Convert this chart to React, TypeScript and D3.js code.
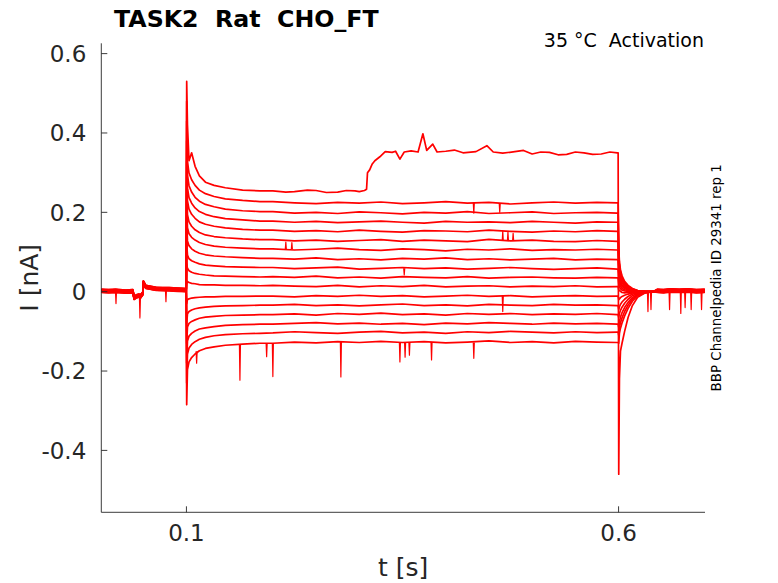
import * as d3 from 'd3';

const W = 778;
const H = 583;

// time grids (s)
const preTimes = [0.0015, 0.01, 0.018, 0.03, 0.038, 0.0395, 0.042, 0.045, 0.047, 0.0497, 0.0502, 0.053, 0.065, 0.08, 0.09, 0.0998];
const preValues = [0.002, 0.001, 0.002, 0.0, 0.001, -0.016, -0.012, -0.01, -0.012, -0.004, 0.023, 0.012, 0.007, 0.006, 0.005, 0.004];

const onsetTimes = [0.1003, 0.1012, 0.103, 0.106, 0.11, 0.115, 0.122, 0.132, 0.145, 0.165, 0.185];
const onsetValues = [
  [0.53, 0.42, 0.33, 0.35, 0.316, 0.292, 0.276, 0.268, 0.262, 0.256, 0.254],
  [0.48, 0.328, 0.299, 0.282, 0.268, 0.256, 0.247, 0.24, 0.234, 0.23, 0.227],
  [0.43, 0.293, 0.267, 0.251, 0.238, 0.228, 0.22, 0.214, 0.208, 0.204, 0.202],
  [0.38, 0.261, 0.237, 0.223, 0.211, 0.202, 0.195, 0.189, 0.184, 0.181, 0.178],
  [0.33, 0.229, 0.208, 0.195, 0.185, 0.176, 0.17, 0.165, 0.161, 0.157, 0.155],
  [0.28, 0.194, 0.176, 0.165, 0.156, 0.149, 0.143, 0.139, 0.136, 0.133, 0.131],
  [0.23, 0.161, 0.146, 0.137, 0.13, 0.124, 0.119, 0.115, 0.112, 0.11, 0.108],
  [0.18, 0.128, 0.116, 0.108, 0.102, 0.097, 0.093, 0.09, 0.088, 0.086, 0.084],
  [0.12, 0.092, 0.083, 0.078, 0.074, 0.07, 0.067, 0.065, 0.063, 0.062, 0.061],
  [0.07, 0.059, 0.053, 0.049, 0.046, 0.044, 0.042, 0.04, 0.039, 0.038, 0.037],
  [0.02, 0.026, 0.023, 0.021, 0.02, 0.018, 0.017, 0.017, 0.016, 0.016, 0.015],
  [-0.03, -0.02, -0.018, -0.016, -0.015, -0.014, -0.013, -0.013, -0.012, -0.012, -0.011],
  [-0.08, -0.056, -0.05, -0.046, -0.043, -0.041, -0.039, -0.037, -0.036, -0.035, -0.034],
  [-0.13, -0.089, -0.08, -0.075, -0.071, -0.067, -0.064, -0.062, -0.06, -0.059, -0.058],
  [-0.18, -0.124, -0.112, -0.105, -0.099, -0.094, -0.091, -0.088, -0.085, -0.083, -0.082],
  [-0.23, -0.157, -0.142, -0.133, -0.126, -0.12, -0.115, -0.111, -0.108, -0.106, -0.105],
  [-0.285, -0.196, -0.177, -0.166, -0.157, -0.149, -0.143, -0.139, -0.135, -0.132, -0.13],
];

// top trace during the step, with its jump near 0.31 s
const topTimes = [0.2, 0.215, 0.225, 0.24, 0.25, 0.262, 0.275, 0.285, 0.295, 0.3, 0.306, 0.3084, 0.3095, 0.312, 0.315, 0.318, 0.3238, 0.33, 0.338, 0.342, 0.347, 0.352, 0.36, 0.368, 0.3736, 0.378, 0.385, 0.39, 0.4, 0.41, 0.42, 0.435, 0.4476, 0.455, 0.466, 0.48, 0.49, 0.5, 0.51, 0.52, 0.53, 0.54, 0.55, 0.56, 0.57, 0.58, 0.59, 0.5985];
const topValues = [0.254, 0.251, 0.252, 0.256, 0.255, 0.25, 0.251, 0.255, 0.254, 0.252, 0.255, 0.258, 0.3, 0.307, 0.322, 0.33, 0.34, 0.353, 0.351, 0.354, 0.334, 0.352, 0.355, 0.352, 0.398, 0.356, 0.372, 0.352, 0.354, 0.357, 0.35, 0.353, 0.368, 0.352, 0.349, 0.353, 0.356, 0.347, 0.352, 0.351, 0.345, 0.346, 0.352, 0.35, 0.346, 0.347, 0.352, 0.35];

const steadyTimes = [0.2, 0.225, 0.25, 0.275, 0.3, 0.325, 0.35, 0.375, 0.4, 0.425, 0.45, 0.475, 0.5, 0.525, 0.55, 0.575, 0.5985];
const steadyValues = [
  [],
  [0.227, 0.224, 0.222, 0.225, 0.223, 0.226, 0.222, 0.224, 0.227, 0.223, 0.225, 0.221, 0.224, 0.226, 0.223, 0.225, 0.224],
  [0.202, 0.198, 0.2, 0.197, 0.201, 0.199, 0.196, 0.2, 0.198, 0.202, 0.197, 0.199, 0.201, 0.197, 0.199, 0.2, 0.198],
  [0.178, 0.175, 0.177, 0.174, 0.176, 0.178, 0.175, 0.173, 0.177, 0.175, 0.176, 0.174, 0.177, 0.175, 0.173, 0.176, 0.175],
  [0.155, 0.152, 0.154, 0.151, 0.155, 0.152, 0.15, 0.154, 0.153, 0.151, 0.155, 0.152, 0.15, 0.153, 0.151, 0.154, 0.152],
  [0.131, 0.128, 0.13, 0.127, 0.129, 0.131, 0.127, 0.13, 0.128, 0.126, 0.132, 0.128, 0.13, 0.127, 0.126, 0.129, 0.127],
  [0.108, 0.105, 0.107, 0.11, 0.106, 0.104, 0.108, 0.106, 0.103, 0.107, 0.105, 0.108, 0.104, 0.106, 0.105, 0.107, 0.105],
  [0.084, 0.082, 0.085, 0.081, 0.083, 0.08, 0.084, 0.082, 0.085, 0.081, 0.083, 0.08, 0.082, 0.084, 0.08, 0.082, 0.081],
  [0.061, 0.058, 0.06, 0.062, 0.057, 0.059, 0.061, 0.058, 0.06, 0.057, 0.059, 0.061, 0.058, 0.056, 0.058, 0.06, 0.057],
  [0.038, 0.036, 0.039, 0.035, 0.037, 0.034, 0.038, 0.036, 0.035, 0.038, 0.034, 0.036, 0.037, 0.035, 0.034, 0.036, 0.035],
  [0.016, 0.014, 0.013, 0.016, 0.012, 0.015, 0.013, 0.016, 0.012, 0.014, 0.015, 0.012, 0.014, 0.013, 0.015, 0.012, 0.013],
  [-0.011, -0.013, -0.01, -0.012, -0.009, -0.012, -0.01, -0.013, -0.011, -0.009, -0.012, -0.01, -0.013, -0.011, -0.01, -0.012, -0.011],
  [-0.034, -0.032, -0.035, -0.033, -0.036, -0.033, -0.031, -0.035, -0.033, -0.036, -0.032, -0.034, -0.035, -0.032, -0.034, -0.033, -0.035],
  [-0.058, -0.056, -0.059, -0.055, -0.057, -0.054, -0.058, -0.056, -0.059, -0.055, -0.057, -0.055, -0.058, -0.056, -0.057, -0.055, -0.058],
  [-0.082, -0.08, -0.078, -0.081, -0.079, -0.082, -0.08, -0.083, -0.079, -0.081, -0.078, -0.08, -0.082, -0.079, -0.081, -0.08, -0.082],
  [-0.104, -0.101, -0.103, -0.105, -0.102, -0.1, -0.104, -0.102, -0.105, -0.101, -0.103, -0.1, -0.102, -0.104, -0.101, -0.103, -0.102],
  [-0.13, -0.127, -0.129, -0.126, -0.128, -0.125, -0.128, -0.126, -0.129, -0.127, -0.124, -0.128, -0.126, -0.129, -0.125, -0.127, -0.128],
];

const tailTimes = [0.5995, 0.6002, 0.601, 0.6022, 0.604, 0.607, 0.611, 0.616, 0.622, 0.63, 0.64];
const tailValues = [
  [0.35, -0.46, -0.22, -0.15, -0.13, -0.1, -0.065, -0.035, -0.014, -0.004, 0],
  [0.224, 0.11, 0.075, 0.055, 0.04, 0.026, 0.016, 0.008, 0.003, 0.001, 0],
  [0.198, 0.1, 0.068, 0.05, 0.036, 0.023, 0.014, 0.007, 0.003, 0.001, 0],
  [0.175, 0.09, 0.06, 0.044, 0.032, 0.02, 0.012, 0.006, 0.002, 0, 0],
  [0.152, 0.08, 0.052, 0.038, 0.027, 0.017, 0.01, 0.005, 0.002, 0, 0],
  [0.127, 0.07, 0.044, 0.032, 0.022, 0.014, 0.008, 0.004, 0.001, 0, 0],
  [0.105, 0.06, 0.036, 0.025, 0.017, 0.011, 0.006, 0.003, 0.001, 0, 0],
  [0.081, 0.05, 0.028, 0.019, 0.013, 0.008, 0.004, 0.002, 0, 0, 0],
  [0.057, 0.035, 0.02, 0.013, 0.008, 0.005, 0.003, 0.001, 0, 0, 0],
  [0.035, 0.02, 0.012, 0.007, 0.004, 0.002, 0.001, 0, 0, 0, 0],
  [0.013, 0.005, 0.003, 0.001, -0.002, -0.003, -0.002, -0.001, 0, 0, 0],
  [-0.011, -0.02, -0.018, -0.015, -0.012, -0.009, -0.006, -0.003, -0.001, 0, 0],
  [-0.035, -0.045, -0.038, -0.032, -0.026, -0.019, -0.012, -0.006, -0.002, 0, 0],
  [-0.058, -0.065, -0.055, -0.047, -0.039, -0.029, -0.019, -0.01, -0.004, -0.001, 0],
  [-0.082, -0.09, -0.075, -0.064, -0.053, -0.04, -0.027, -0.015, -0.006, -0.002, 0],
  [-0.102, -0.11, -0.09, -0.078, -0.066, -0.05, -0.034, -0.019, -0.008, -0.002, 0],
  [-0.128, -0.13, -0.105, -0.092, -0.079, -0.061, -0.042, -0.024, -0.01, -0.003, 0],
];

const postTimes = [0.645, 0.652, 0.66, 0.67, 0.68, 0.69, 0.6997];
const postValues = [0.002, 0.001, 0.003, 0.002, 0.003, 0.001, 0.002];

// small per-sweep baseline offsets (nA)
const baseOffsets = [0.003, -0.002, 0.001, 0.004, -0.003, 0, 0.002, -0.004, 0.003, -0.001, 0.001, -0.003, 0.002, 0, -0.002, 0.004, -0.001];

// brief spikes: time, local level, tip value
const spikeTimes = [0.0185, 0.0462, 0.0763, 0.1118, 0.1619, 0.1928, 0.2, 0.2787, 0.347, 0.353, 0.358, 0.3836, 0.4325, 0.4325, 0.4625, 0.352, 0.466, 0.466, 0.472, 0.478, 0.215, 0.222, 0.634, 0.6375, 0.659, 0.672, 0.677, 0.684, 0.696];
const spikeFrom = [0.002, -0.012, 0.006, -0.15, -0.133, -0.13, -0.13, -0.127, -0.128, -0.128, -0.128, -0.127, -0.128, 0.224, 0.223, 0.059, -0.011, 0.128, 0.128, 0.128, 0.107, 0.107, 0.0, 0.0, 0.002, 0.002, 0.002, 0.002, 0.002];
const spikeTo = [-0.03, -0.066, -0.025, -0.18, -0.223, -0.164, -0.214, -0.215, -0.177, -0.165, -0.16, -0.172, -0.168, 0.198, 0.2, 0.042, -0.05, 0.152, 0.15, 0.147, 0.125, 0.124, -0.05, -0.045, -0.045, -0.055, -0.04, -0.045, -0.045];

const yTicks = [-0.4, -0.2, 0, 0.2, 0.4, 0.6];
const yTickLabels = ['-0.4', '-0.2', '0', '0.2', '0.4', '0.6'];
const xTicks = [0.1, 0.6];
const xTickLabels = ['0.1', '0.6'];

const FONT = '"DejaVu Sans", Verdana, sans-serif';
const INK = '#262626';

export default function App() {
  const x = d3.scaleLinear().domain([0.0015, 0.7]).range([101.3, 705]);
  const y = d3.scaleLinear().domain([-0.556, 0.626]).range([512.3, 43.3]);

  const line = d3.line<[number, number]>()
    .x(d => x(d[0]))
    .y(d => y(d[1]));

  const traces = onsetValues.map((onset, k) => {
    const pts: [number, number][] = [];
    preTimes.forEach((t, i) => pts.push([t, preValues[i] + baseOffsets[k]]));
    onsetTimes.forEach((t, i) => pts.push([t, onset[i]]));
    if (k === 0) {
      topTimes.forEach((t, i) => pts.push([t, topValues[i]]));
    } else {
      steadyTimes.forEach((t, i) => pts.push([t, steadyValues[k][i]]));
    }
    tailTimes.forEach((t, i) => pts.push([t, tailValues[k][i]]));
    postTimes.forEach((t, i) => pts.push([t, postValues[i] + baseOffsets[k]]));
    return pts;
  });

  const spikes = spikeTimes.map((t, i) => [
    [t - 0.0006, spikeFrom[i]],
    [t, spikeTo[i]],
    [t + 0.0006, spikeFrom[i]],
  ] as [number, number][]);

  const x0 = x.range()[0];
  const x1 = x.range()[1];
  const yBottom = y.range()[0];
  const yTop = y.range()[1];

  return (
    <div style={{ position: 'fixed', left: 0, top: 0, width: W, height: H, background: '#fff' }}>
      <svg width={W} height={H} style={{ display: 'block' }} fontFamily={FONT}>
        <rect width={W} height={H} fill="#fff" />
        <g fill="none" stroke="#ff0000" strokeWidth={1.7} strokeLinejoin="round">
          {traces.map((pts, k) => (
            <path key={k} d={line(pts) || ''} />
          ))}
          {spikes.map((pts, i) => (
            <path key={'s' + i} d={line(pts) || ''} strokeWidth={1.2} />
          ))}
        </g>

        {/* axes */}
        <g stroke={INK} strokeWidth={0.9} fill="none">
          <line x1={x0} x2={x0} y1={yTop} y2={yBottom} />
          <line x1={x0} x2={x1} y1={yBottom} y2={yBottom} />
          {yTicks.map(v => (
            <line key={v} x1={x0} x2={x0 + 6} y1={y(v)} y2={y(v)} />
          ))}
          {xTicks.map(v => (
            <line key={v} x1={x(v)} x2={x(v)} y1={yBottom} y2={yBottom - 6} />
          ))}
        </g>
        <g fill={INK} fontSize={23}>
          {yTicks.map((v, i) => (
            <text key={v} x={x0 - 15} y={y(v)} dy="0.36em" textAnchor="end">{yTickLabels[i]}</text>
          ))}
          {xTicks.map((v, i) => (
            <text key={v} x={x(v)} y={541} textAnchor="middle">{xTickLabels[i]}</text>
          ))}
        </g>
        <text x={(x0 + x1) / 2} y={576} textAnchor="middle" fontSize={25} fill={INK}>t [s]</text>
        <text transform={`translate(38,${(yTop + yBottom) / 2}) rotate(-90)`} textAnchor="middle" fontSize={25} fill={INK}>I [nA]</text>

        <text x={114} y={27} fontSize={23.7} fontWeight="bold" fill="#000" style={{ whiteSpace: 'pre' }}>TASK2  Rat  CHO_FT</text>
        <text x={704} y={47} fontSize={19} textAnchor="end" fill="#000" style={{ whiteSpace: 'pre' }}>35 °C  Activation</text>
        <text transform={`translate(721,${(yTop + yBottom) / 2}) rotate(-90)`} textAnchor="middle" fontSize={13.4} fill="#000">BBP Channelpedia ID 29341 rep 1</text>
      </svg>
    </div>
  );
}
